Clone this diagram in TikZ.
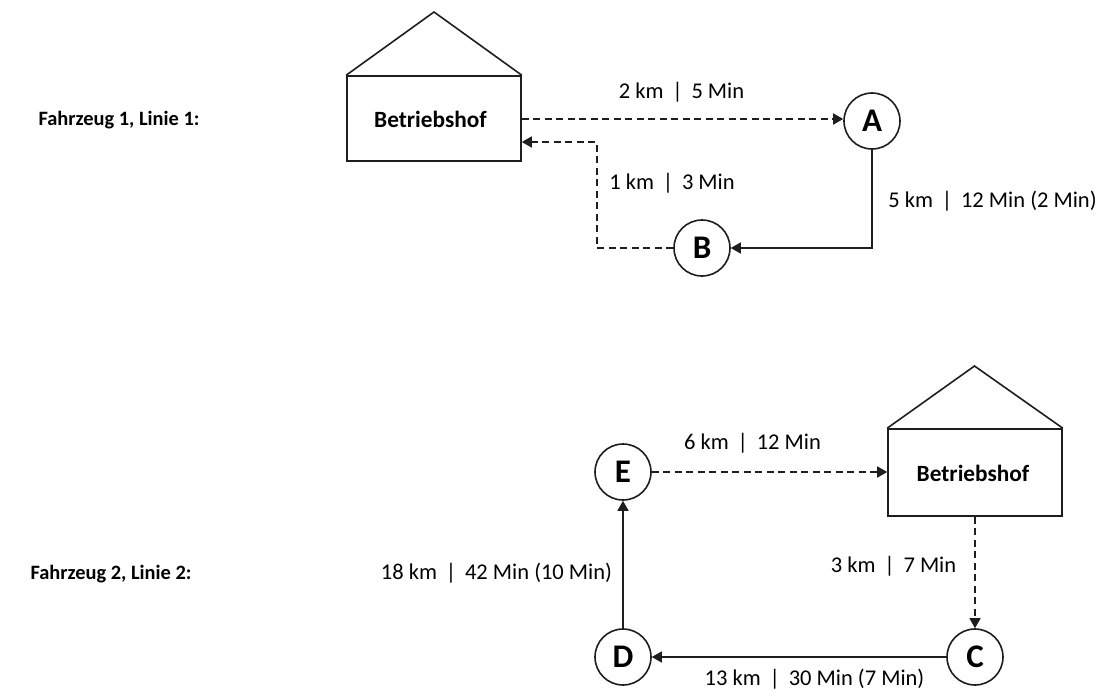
\documentclass[tikz,border=0pt]{standalone}
\usepackage{fontspec}
\setmainfont{Carlito}
\definecolor{linegray}{RGB}{30, 30, 30}
\usetikzlibrary{arrows.meta, positioning, calc}

\begin{document}
\begin{tikzpicture}[x=1pt, y=-1pt,
    depot/.style={draw=linegray, line width=1.6pt, minimum width=174pt, inner sep=0pt},
    stop/.style={draw=linegray, circle, line width=1.6pt, minimum size=56pt, inner sep=0pt, font=\fontsize{33}{36}\selectfont\bfseries},
    info/.style={inner sep=0pt, font=\fontsize{22.5}{26}\selectfont},
    title/.style={inner sep=0pt, font=\fontsize{20.4}{24}\selectfont\bfseries},
    house/.style={inner sep=0pt, font=\fontsize{23.3}{26}\selectfont\bfseries},
    loaded/.style={draw=linegray, line width=1.5pt, -{Triangle[length=10pt, width=11pt]}},
    empty/.style={loaded, dash pattern=on 7pt off 4.5pt}]
  \useasboundingbox (0,0) rectangle (1101,689);

  % line 1
  \node[title] (title1) at (119,120.5) {Fahrzeug 1, Linie 1:};
  \node[depot, minimum height=85pt] (depot1) at (434,118.5) {};
  \node[house] (depot1text) at (430.5,119) {Betriebshof};
  \draw[line width=1.6pt, draw=linegray, line join=miter] (depot1.north west) -- (434,12) -- (depot1.north east);
  \node[stop] (A) at (872,121) {A};
  \node[stop] (B) at (702,248) {B};
  \coordinate (depot1out) at ($(depot1.east)+(0,0.5)$);
  \coordinate (depot1in) at ($(depot1.east)+(0,23.5)$);
  \draw[empty] (depot1out) -- (depot1out -| A.west);
  \draw[loaded] (A.south) |- (B.east);
  \draw[empty] (B.west) -- (597,248) |- (depot1in);
  \node[info] (label1) at (681.5,92) {2 km \,|\, 5 Min};
  \node[info] (label2) at (992.5,201) {5 km \,|\, 12 Min (2 Min)};
  \node[info] (label3) at (672,183) {1 km \,|\, 3 Min};

  % line 2
  \node[title] (title2) at (111,574.5) {Fahrzeug 2, Linie 2:};
  \node[depot, minimum height=87pt] (depot2) at (975,472.5) {};
  \node[house] (depot2text) at (973,473) {Betriebshof};
  \draw[line width=1.6pt, draw=linegray, line join=miter] (depot2.north west) -- (974.5,366) -- (depot2.north east);
  \node[stop] (E) at (623,472) {E};
  \node[stop] (D) at (623,657) {D};
  \node[stop] (C) at (975,657) {C};
  \draw[empty] (E.east) -- (depot2.west |- E.east);
  \draw[empty] (depot2.south) -- (C.north);
  \draw[loaded] (C.west) -- (D.east);
  \draw[loaded] (D.north) -- (E.south);
  \node[info] (label4) at (752.5,443) {6 km \,|\, 12 Min};
  \node[info] (label5) at (893.5,566) {3 km \,|\, 7 Min};
  \node[info] (label6) at (814.5,679) {13 km \,|\, 30 Min (7 Min)};
  \node[info] (label7) at (496.5,573) {18 km \,|\, 42 Min (10 Min)};
\end{tikzpicture}
\end{document}
